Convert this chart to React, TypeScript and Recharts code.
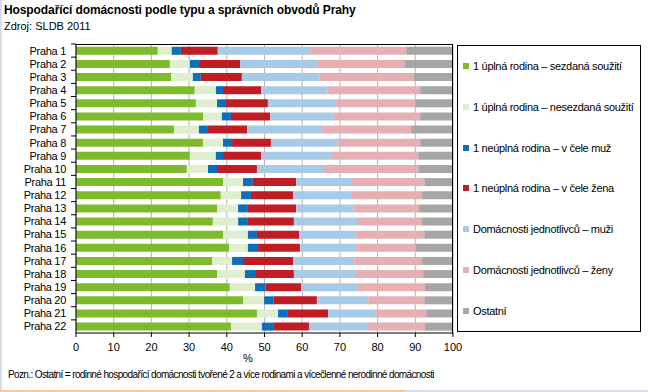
import { Bar, BarChart, CartesianGrid, XAxis, YAxis } from "recharts"

const categories = [
  "Praha 1", "Praha 2", "Praha 3", "Praha 4", "Praha 5", "Praha 6", "Praha 7", "Praha 8",
  "Praha 9", "Praha 10", "Praha 11", "Praha 12", "Praha 13", "Praha 14", "Praha 15", "Praha 16",
  "Praha 17", "Praha 18", "Praha 19", "Praha 20", "Praha 21", "Praha 22",
]

const sezdana = [21.7, 24.9, 25.2, 31.5, 31.8, 33.7, 26.0, 33.7, 30.2, 29.4, 39.0, 38.4, 37.4, 36.3, 39.0, 40.6, 36.1, 37.4, 40.8, 44.3, 48.0, 41.1]
const nesezdana = [3.7, 5.3, 5.8, 5.6, 5.6, 5.0, 6.6, 5.3, 6.9, 5.6, 5.3, 5.4, 5.6, 6.7, 6.6, 5.0, 5.3, 7.4, 6.7, 5.6, 5.6, 8.2]
const neuplnaMuz = [2.4, 2.4, 2.1, 1.9, 2.4, 2.4, 2.4, 2.4, 1.9, 2.4, 2.6, 2.6, 2.6, 2.6, 2.4, 2.7, 2.9, 2.7, 2.8, 2.5, 2.6, 3.0]
const neuplnaZena = [9.8, 10.9, 10.9, 10.1, 11.1, 10.4, 10.4, 10.3, 10.1, 10.6, 11.5, 11.2, 12.8, 12.2, 11.2, 11.1, 13.3, 10.3, 9.4, 11.5, 10.7, 9.5]
const jednotlivciMuzi = [24.5, 20.4, 20.5, 17.7, 18.1, 16.7, 19.9, 17.6, 18.8, 17.5, 14.8, 15.6, 15.4, 17.0, 15.1, 14.9, 16.2, 16.2, 15.1, 13.6, 12.7, 15.4]
const jednotlivciZeny = [25.5, 23.2, 25.0, 24.5, 21.0, 23.1, 23.6, 22.0, 22.9, 25.3, 19.2, 18.6, 17.2, 16.8, 18.1, 15.9, 18.0, 18.1, 17.8, 14.9, 13.3, 15.4]
const ostatni = [12.4, 12.9, 10.5, 8.7, 10.0, 8.7, 11.1, 8.7, 9.2, 9.2, 7.6, 8.2, 9.0, 8.4, 7.6, 9.8, 8.2, 7.9, 7.4, 7.6, 7.1, 7.4]

const xTicks = [0, 10, 20, 30, 40, 50, 60, 70, 80, 90, 100]

const series = [
  { key: "sezdana", name: "1 úplná rodina – sezdaná soužití", color: "#7fba2c", values: sezdana },
  { key: "nesezdana", name: "1 úplná rodina – nesezdaná soužití", color: "#dfeecf", values: nesezdana },
  { key: "muz", name: "1 neúplná rodina – v čele muž", color: "#0b6fba", values: neuplnaMuz },
  { key: "zena", name: "1 neúplná rodina – v čele žena", color: "#c01c24", values: neuplnaZena },
  { key: "jm", name: "Domácnosti jednotlivců – muži", color: "#a7cbe7", values: jednotlivciMuzi },
  { key: "jz", name: "Domácnosti jednotlivců – ženy", color: "#e6afb3", values: jednotlivciZeny },
  { key: "ost", name: "Ostatní", color: "#a6a6a6", values: ostatni },
]

const data = categories.map((name, i) => {
  const row: Record<string, string | number> = { name }
  series.forEach((s) => (row[s.key] = s.values[i]))
  return row
})

const FONT = "'Liberation Sans', Arial, sans-serif"
const PLOT_LEFT = 76
const PLOT_TOP = 44
const PLOT_RIGHT = 453
const PLOT_BOTTOM = 333
const STEP = (PLOT_BOTTOM - PLOT_TOP) / categories.length

const CategoryTick = (props: any) => {
  const { y, payload } = props
  return (
    <g>
      <line x1={PLOT_LEFT - 5} x2={PLOT_LEFT} y1={y - STEP / 2} y2={y - STEP / 2} stroke="#000" />
      <text x={66} y={y} textAnchor="end" dominantBaseline="central" fontSize={11} fontFamily={FONT} fill="#000" letterSpacing={-0.3}>
        {payload.value}
      </text>
    </g>
  )
}

export default function App() {
  return (
    <div style={{ position: "absolute", left: 0, top: 0, width: 648, height: 392, background: "#fff", fontFamily: FONT, overflow: "hidden" }}>
      <div style={{ position: "absolute", left: 4, top: 3, fontSize: 12, fontWeight: "bold", color: "#000", whiteSpace: "nowrap", letterSpacing: -0.1 }}>
        Hospodařící domácnosti podle typu a správních obvodů Prahy
      </div>
      <div style={{ position: "absolute", left: 4, top: 20, fontSize: 11, color: "#000", whiteSpace: "nowrap" }}>
        Zdroj: SLDB 2011
      </div>

      <div style={{ position: "absolute", left: 0, top: 0 }}>
        <BarChart
          width={648}
          height={392}
          data={data}
          layout="vertical"
          margin={{ top: PLOT_TOP, right: 648 - PLOT_RIGHT, left: 0, bottom: 0 }}
          barCategoryGap="21%"
        >
          <CartesianGrid horizontal={false} stroke="#b4b4b4" />
          <XAxis
            type="number"
            domain={[0, 100]}
            ticks={xTicks}
            allowDataOverflow
            height={392 - PLOT_BOTTOM}
            tickSize={4}
            tickMargin={6}
            stroke="#000"
            tick={{ fontSize: 11, fill: "#000", fontFamily: FONT }}
          />
          <YAxis
            type="category"
            dataKey="name"
            width={PLOT_LEFT}
            tickLine={false}
            stroke="#000"
            interval={0}
            tick={<CategoryTick />}
          />
          {series.map((s) => (
            <Bar key={s.key} dataKey={s.key} name={s.name} stackId="a" fill={s.color} isAnimationActive={false} />
          ))}
        </BarChart>
      </div>

      <div
        style={{
          position: "absolute",
          left: PLOT_LEFT,
          top: PLOT_TOP,
          width: PLOT_RIGHT - PLOT_LEFT - 1,
          height: PLOT_BOTTOM - PLOT_TOP,
          borderTop: "1px solid #000",
          borderRight: "1px solid #000",
          pointerEvents: "none",
        }}
      />

      <div style={{ position: "absolute", left: 243, top: 352, fontSize: 11, color: "#000" }}>%</div>

      <div
        style={{
          position: "absolute",
          left: 457,
          top: 45,
          width: 182,
          height: 285,
          border: "1px solid #000",
          display: "flex",
          flexDirection: "column",
          justifyContent: "space-around",
          boxSizing: "content-box",
        }}
      >
        {series.map((s) => (
          <div key={s.key} style={{ display: "flex", alignItems: "center", fontSize: 11, color: "#000", whiteSpace: "nowrap", letterSpacing: -0.3 }}>
            <span style={{ display: "inline-block", width: 6, height: 6, background: s.color, marginLeft: 5, marginRight: 4 }} />
            {s.name}
          </div>
        ))}
      </div>

      <div style={{ position: "absolute", left: 8, top: 369, fontSize: 10, color: "#000", whiteSpace: "nowrap", letterSpacing: -0.62 }}>
        Pozn.: Ostatní = rodinné hospodařící domácnosti tvořené 2 a více rodinami a vícečlenné nerodinné domácnosti
      </div>

      <div style={{ position: "absolute", left: 0, top: 0, width: 2, height: 392, background: "#d6dde9" }} />
      <div style={{ position: "absolute", left: 0, top: 390, width: 405, height: 2, background: "#f6c89c" }} />
      <div style={{ position: "absolute", left: 405, top: 390, width: 243, height: 2, background: "#d6dde9" }} />
    </div>
  )
}
